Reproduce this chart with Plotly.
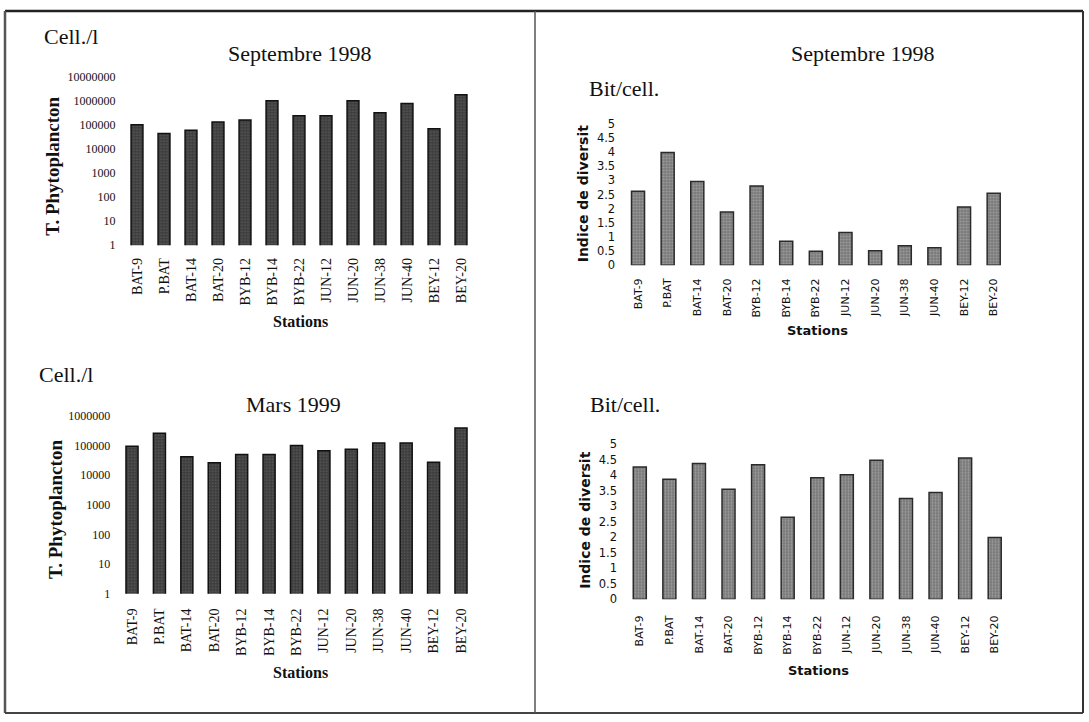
import plotly.graph_objects as go

stations = ["BAT-9", "P.BAT", "BAT-14", "BAT-20", "BYB-12", "BYB-14", "BYB-22",
            "JUN-12", "JUN-20", "JUN-38", "JUN-40", "BEY-12", "BEY-20"]

# Total phytoplankton (cell./l)
phyto_sep98 = [100000, 44000, 59000, 130000, 160000, 1000000, 240000,
               240000, 1000000, 320000, 760000, 69000, 1750000]
phyto_mar99 = [93000, 255000, 41000, 26000, 49000, 49000, 98000,
               66000, 74000, 120000, 120000, 27000, 380000]

# Shannon diversity index (bit/cell.)
div_sep98 = [2.62, 3.99, 2.96, 1.88, 2.8, 0.85, 0.49, 1.16, 0.51, 0.69, 0.62, 2.06, 2.55]
div_mar99 = [4.27, 3.87, 4.38, 3.55, 4.34, 2.65, 3.92, 4.02, 4.49, 3.25, 3.45, 4.56, 1.99]

log_ticks = [1, 10, 100, 1000, 10000, 100000, 1000000, 10000000]
div_ticks = [0, 0.5, 1, 1.5, 2, 2.5, 3, 3.5, 4, 4.5, 5]

W, H = 1089, 722
SERIF = "Liberation Serif, Times New Roman, serif"
SANS = "DejaVu Sans, Verdana, sans-serif"


def px(x):
    return x / W


def py(y):
    return 1 - y / H


fig = go.Figure()

dark_bar = dict(color="#4c4c4c", line=dict(color="#111111", width=1.5),
                pattern=dict(shape=".", fgcolor="#8a8a8a", bgcolor="#3c3c3c",
                             size=3, solidity=0.25))
light_bar = dict(color="#8c8c8c", line=dict(color="#2a2a2a", width=1.5),
                 pattern=dict(shape=".", fgcolor="#c4c4c4", bgcolor="#7a7a7a",
                              size=3, solidity=0.3))

fig.add_trace(go.Bar(x=stations, y=phyto_sep98, xaxis="x", yaxis="y",
                     marker=dark_bar))
fig.add_trace(go.Bar(x=stations, y=div_sep98, xaxis="x2", yaxis="y2",
                     marker=light_bar))
fig.add_trace(go.Bar(x=stations, y=phyto_mar99, xaxis="x3", yaxis="y3",
                     marker=dark_bar))
fig.add_trace(go.Bar(x=stations, y=div_mar99, xaxis="x4", yaxis="y4",
                     marker=light_bar))

serif_cat = dict(family=SERIF, size=14, color="#111")
sans_cat = dict(family=SANS, size=11, color="#111")


def cat_axis(domain, font, standoff):
    return dict(domain=domain, type="category", tickangle=-90, tickfont=font,
                showline=False, showgrid=False, zeroline=False, ticks="",
                ticklabelstandoff=standoff, fixedrange=True)


def log_axis(domain, top, anchor):
    vals = [v for v in log_ticks if v <= 10 ** top]
    return dict(domain=domain, type="log", range=[0, top], anchor=anchor,
                tickmode="array", tickvals=vals, ticktext=[str(v) for v in vals],
                tickfont=dict(family=SERIF, size=12, color="#111"),
                showline=False, showgrid=False, zeroline=False, ticks="",
                ticklabelstandoff=7, fixedrange=True)


def div_axis(domain, anchor):
    return dict(domain=domain, range=[0, 5], anchor=anchor,
                tickmode="array", tickvals=div_ticks,
                ticktext=[("%g" % v) for v in div_ticks],
                tickfont=dict(family=SANS, size=11.5, color="#111"),
                showline=False, showgrid=False, zeroline=False, ticks="",
                ticklabelstandoff=7, fixedrange=True)


fig.update_layout(
    width=W, height=H, margin=dict(l=0, r=0, t=0, b=0),
    paper_bgcolor="white", plot_bgcolor="white", showlegend=False,
    bargap=0.56,
    xaxis=dict(cat_axis([px(123.5), px(474.5)], serif_cat, 9), anchor="y"),
    yaxis=log_axis([py(243), py(71)], 7, "x"),
    xaxis2=dict(cat_axis([px(623.2), px(1008.5)], sans_cat, 10), anchor="y2"),
    yaxis2=div_axis([py(263.3), py(119.3)], "x2"),
    xaxis3=dict(cat_axis([px(118.3), px(474.7)], serif_cat, 11), anchor="y3"),
    yaxis3=log_axis([py(598.3), py(416.7)], 6, "x3"),
    xaxis4=dict(cat_axis([px(625), px(1009.5)], sans_cat, 13), anchor="y4"),
    yaxis4=div_axis([py(604), py(446)], "x4"),
)


def label(text, x, y, size, family, bold=False, angle=0):
    fig.add_annotation(text=("<b>%s</b>" % text) if bold else text,
                       x=px(x), y=py(y), xref="paper", yref="paper",
                       showarrow=False, textangle=angle,
                       font=dict(family=family, size=size, color="#111"),
                       xanchor="center", yanchor="middle")


# Panel headings and units
label("Cell./l", 71, 30, 22, SERIF)
label("Septembre 1998", 300, 47, 22, SERIF)
label("Septembre 1998", 863, 47, 22, SERIF)
label("Bit/cell.", 624, 83, 22, SERIF)
label("Cell./l", 66, 375, 22, SERIF)
label("Mars 1999", 293, 405, 22, SERIF)
label("Bit/cell.", 625, 405, 22, SERIF)

# Axis titles
label("T. Phytoplancton", 53, 162, 19, SERIF, bold=True, angle=-90)
label("T. Phytoplancton", 55, 513, 19, SERIF, bold=True, angle=-90)
label("Indice de diversit", 583, 190, 14, SANS, bold=True, angle=-90)
label("Indice de diversit", 585, 523, 14, SANS, bold=True, angle=-90)
label("Stations", 300, 321, 16, SERIF, bold=True)
label("Stations", 300, 679, 16, SERIF, bold=True)
label("Stations", 817, 330, 13, SANS, bold=True)
label("Stations", 818, 677, 13, SANS, bold=True)

# Page frame and the divider between the two columns
frame = [
    (5, 4, 1083, 4, "#222", 2.5),
    (5, 4, 5, 720, "#555", 2.5),
    (5, 720, 1083, 720, "#444", 2),
    (1083, 4, 1083, 720, "#333", 2),
    (535, 4, 535, 720, "#555", 1.5),
]
for x0, y0, x1, y1, col, w in frame:
    fig.add_shape(type="line", xref="paper", yref="paper",
                  x0=px(x0), y0=py(y0), x1=px(x1), y1=py(y1),
                  line=dict(color=col, width=w))

fig.write_html("out.html")
